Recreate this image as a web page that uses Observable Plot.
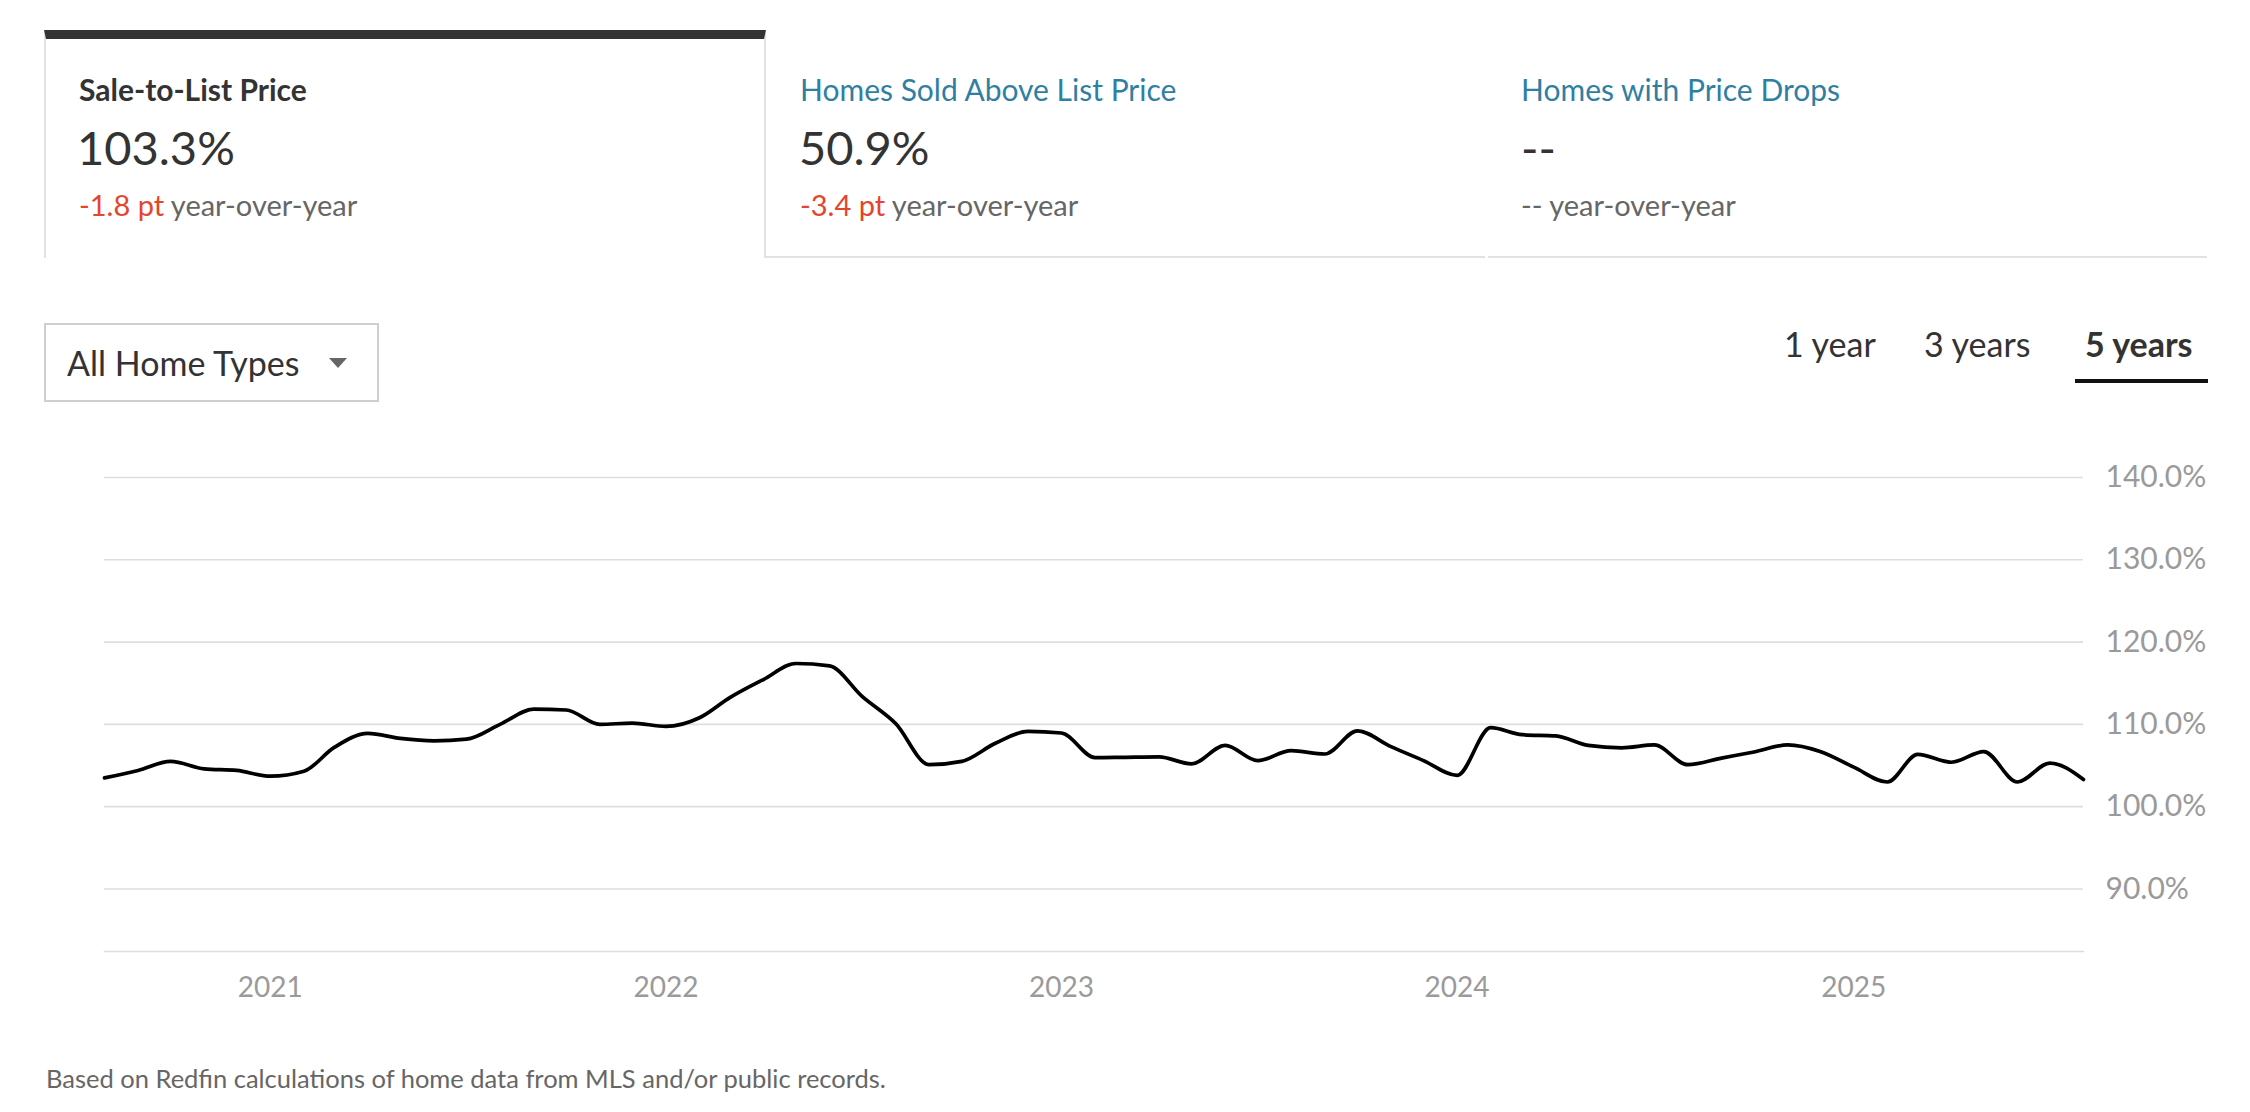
<!DOCTYPE html>
<html>
<head>
<meta charset="utf-8">
<script src="https://cdn.jsdelivr.net/npm/d3@7"></script>
<script src="https://cdn.jsdelivr.net/npm/@observablehq/plot@0.6"></script>
<style>
  html, body { margin: 0; padding: 0; background: #fff; }
  body { width: 2250px; height: 1112px; position: relative; overflow: hidden; font-family: Lato, "Noto Sans", sans-serif; color: #333; }
  .abs { position: absolute; line-height: 1; white-space: nowrap; }
  .tab1 { position: absolute; left: 44px; top: 30px; width: 722px; height: 228px; border-top: 9px solid #333; border-left: 2px solid #e2e2e2; border-right: 2px solid #e2e2e2; box-sizing: border-box; }
  .bline { position: absolute; height: 2px; background: #e2e2e2; top: 256px; }
  .label { font-size: 30px; }
  .bold { font-weight: 700; }
  .blue { color: #2f7fa3; }
  .big { font-size: 47px; color: #333; }
  .yoy { font-size: 29px; color: #666; }
  .red { color: #e5442d; }
  .dd { position: absolute; left: 44px; top: 323px; width: 335px; height: 79px; border: 2px solid #cfcfcf; box-sizing: border-box; }
  .caret { position: absolute; left: 329px; top: 358px; width: 0; height: 0; border-left: 9px solid transparent; border-right: 9px solid transparent; border-top: 10px solid #666; }
  .range { font-size: 34px; color: #333; }
  .uline { position: absolute; left: 2075px; top: 379px; width: 133px; height: 4px; background: #111; }
  #chart { position: absolute; left: 0; top: 440px; }
  .caption { font-size: 25.5px; color: #666; }
</style>
</head>
<body>
<div class="tab1"></div>
<div class="bline" style="left:766px; width:719px;"></div>
<div class="bline" style="left:1488px; width:719px;"></div>

<div class="abs label bold" style="left:79px; top:74px;">Sale-to-List Price</div>
<div class="abs big" style="left:77px; top:124px;">103.3%</div>
<div class="abs yoy" style="left:79px; top:190px;"><span class="red">-1.8 pt</span> year-over-year</div>

<div class="abs label blue" style="left:800px; top:74px;">Homes Sold Above List Price</div>
<div class="abs big" style="left:799px; top:124px;">50.9%</div>
<div class="abs yoy" style="left:800px; top:190px;"><span class="red">-3.4 pt</span> year-over-year</div>

<div class="abs label blue" style="left:1521px; top:74px;">Homes with Price Drops</div>
<div class="abs big" style="left:1521px; top:124px;">--</div>
<div class="abs yoy" style="left:1521px; top:190px;">-- year-over-year</div>

<div class="dd"></div>
<div class="abs" style="left:67px; top:346px; font-size:34px; color:#333;">All Home Types</div>
<div class="caret"></div>

<div class="abs range" style="left:1784px; top:327px;">1 year</div>
<div class="abs range" style="left:1924px; top:327px;">3 years</div>
<div class="abs range bold" style="left:2085px; top:327px;">5 years</div>
<div class="uline"></div>

<div id="chart"></div>

<div class="abs caption" style="left:46px; top:1066px;">Based on Redfin calculations of home data from MLS and/or public records.</div>

<script>
// Monthly sale-to-list price (%), Aug 2020 – Aug 2025
const months = [
  "2020-08","2020-09","2020-10","2020-11","2020-12",
  "2021-01","2021-02","2021-03","2021-04","2021-05","2021-06","2021-07","2021-08","2021-09","2021-10","2021-11","2021-12",
  "2022-01","2022-02","2022-03","2022-04","2022-05","2022-06","2022-07","2022-08","2022-09","2022-10","2022-11","2022-12",
  "2023-01","2023-02","2023-03","2023-04","2023-05","2023-06","2023-07","2023-08","2023-09","2023-10","2023-11","2023-12",
  "2024-01","2024-02","2024-03","2024-04","2024-05","2024-06","2024-07","2024-08","2024-09","2024-10","2024-11","2024-12",
  "2025-01","2025-02","2025-03","2025-04","2025-05","2025-06","2025-07","2025-08"
];
const saleToList = [
  103.5, 104.4, 105.5, 104.6, 104.4,
  103.7, 104.3, 107.2, 108.9, 108.3, 108.0, 108.2, 110.0, 111.85, 111.75, 110.0, 110.15,
  109.75, 110.8, 113.25, 115.45, 117.4, 117.1, 113.4, 110.1, 105.1, 105.5, 107.7, 109.15,
  108.95, 105.95, 106.0, 106.05, 105.2, 107.45, 105.6, 106.8, 106.4, 109.2, 107.3, 105.6,
  103.8, 109.6, 108.75, 108.6, 107.45, 107.15, 107.5, 105.1, 105.9, 106.65, 107.5, 106.7,
  104.8, 103.0, 106.35, 105.4, 106.7, 103.0, 105.3, 103.3
];
const yearTicks = ["2021-01","2022-01","2023-01","2024-01","2025-01"];
const yTicks = [90, 100, 110, 120, 130, 140];
const yDomain = [82.4, 140];

const parse = d3.utcParse("%Y-%m");
const data = months.map((m, i) => ({date: parse(m), value: saleToList[i]}));

const chart = Plot.plot({
  width: 2250,
  height: 580,
  marginLeft: 104,
  marginRight: 167,
  marginTop: 37,
  marginBottom: 69,
  style: {fontFamily: "Lato, 'Noto Sans', sans-serif", background: "transparent", overflow: "visible"},
  x: {type: "utc", domain: d3.extent(data, d => d.date)},
  y: {domain: yDomain},
  marks: [
    Plot.gridY(yTicks, {stroke: "#dedede", strokeOpacity: 1, strokeWidth: 1.6}),
    Plot.frame({anchor: "bottom", stroke: "#dedede", strokeWidth: 1.6}),
    Plot.axisY(yTicks, {anchor: "right", tickSize: 0, tickPadding: 22, label: null,
      tickFormat: d => d.toFixed(1) + "%", fontSize: 30, fill: "#9a9a9a"}),
    Plot.axisX(yearTicks.map(parse), {tickSize: 0, tickPadding: 26, label: null,
      tickFormat: "%Y", fontSize: 28, fill: "#9a9a9a"}),
    Plot.lineY(data, {x: "date", y: "value", stroke: "#000", strokeWidth: 3.7, curve: "monotone-x"})
  ]
});
document.getElementById("chart").appendChild(chart);
</script>
</body>
</html>
